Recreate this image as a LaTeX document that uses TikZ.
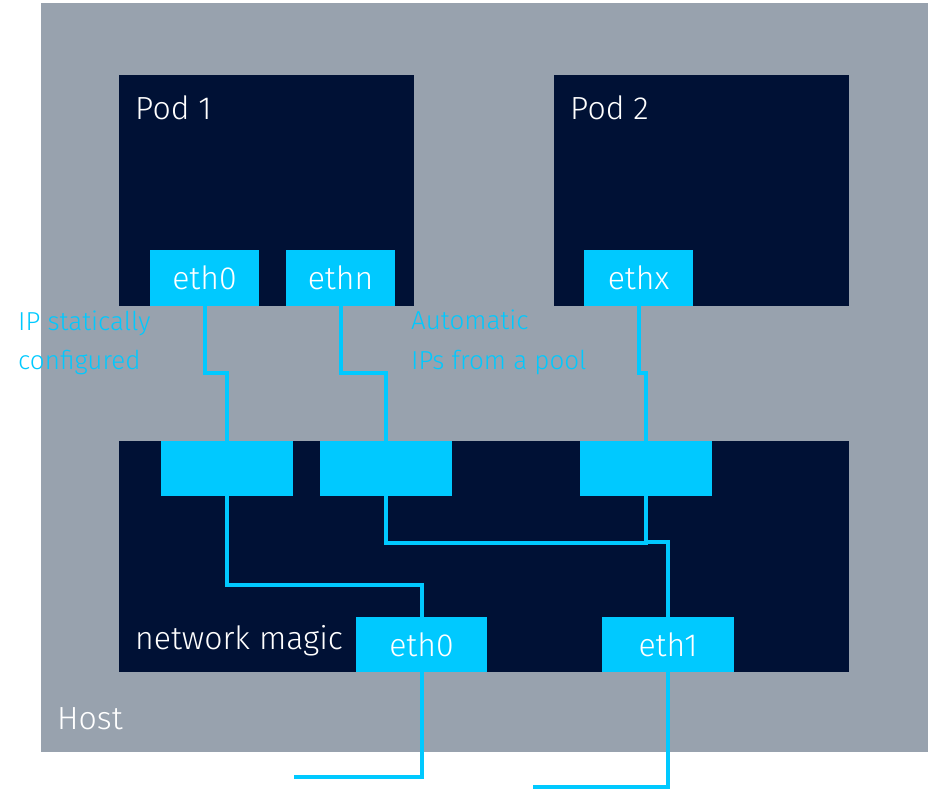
\documentclass[tikz,border=0pt]{standalone}
\usepackage{fontspec}
\setmainfont{Fira Sans Light}
\definecolor{hostgrey}{HTML}{98A2AE}
\definecolor{navy}{HTML}{001135}
\definecolor{cyanx}{HTML}{00C9FF}
\begin{document}
\begin{tikzpicture}[x=1pt,y=-1pt,
  blk/.style={fill=navy,draw=none,inner sep=0,outer sep=0,anchor=north west},
  port/.style={fill=cyanx,draw=none,inner sep=0,outer sep=0,anchor=north west,text=white,font=\fontsize{32}{34}\selectfont},
  ttl/.style={text=white,anchor=base west,inner sep=0,font=\fontsize{32}{34}\selectfont},
  lbl/.style={text=cyanx,anchor=base west,inner sep=0,font=\fontsize{26}{30}\selectfont},
  wire/.style={draw=cyanx,line width=4pt}]
\useasboundingbox (0,0) rectangle (928,789);
\fill[hostgrey] (41,3) rectangle (928,752);
\node[blk,minimum width=295,minimum height=231] (pod1) at (119,75) {};
\node[blk,minimum width=295,minimum height=231] (pod2) at (554,75) {};
\node[blk,minimum width=730,minimum height=231] (nm) at (119,441) {};
\node[ttl] (tp1) at (135,120) {Pod 1};
\node[ttl] (tp2) at (570,120) {Pod 2};
\node[ttl] (tnm) at (135,649) {network magic};
\node[ttl] (thost) at (57,729) {Host};
\node[port,minimum width=109,minimum height=56] (p0) at (150,250) {eth0};
\node[port,minimum width=109,minimum height=56] (pn) at (286,250) {ethn};
\node[port,minimum width=109,minimum height=56] (px) at (584,250) {ethx};
\node[port,minimum width=132,minimum height=55] (b1) at (161,441) {};
\node[port,minimum width=132,minimum height=55] (b2) at (320,441) {};
\node[port,minimum width=132,minimum height=55] (b3) at (580,441) {};
\node[port,minimum width=131,minimum height=55] (e0) at (356,617) {eth0};
\node[port,minimum width=132,minimum height=55] (e1) at (602,617) {eth1};
\node[lbl] (l1a) at (18,330) {IP statically};
\node[lbl] (l1b) at (18,369) {configured};
\node[lbl] (l2a) at (411,329) {Automatic};
\node[lbl] (l2b) at (411,369) {IPs from a pool};
\coordinate (o0) at (294,777);
\coordinate (o1) at (533,787);
\draw[wire] (p0.south) |- (227,373) -- (b1.north);
\draw[wire] (pn.south) |- (386,373) -- (b2.north);
\draw[wire] (px.south) |- (646,373) -- (b3.north);
\draw[wire] (b1.south) |- (421.5,585) -- (e0.north);
\draw[wire] (b2.south) |- (648,543);
\draw[wire] (b3.south) |- (668,542) -- (e1.north);
\draw[wire] (e0.south) |- (o0);
\draw[wire] (e1.south) |- (o1);
\end{tikzpicture}
\end{document}
